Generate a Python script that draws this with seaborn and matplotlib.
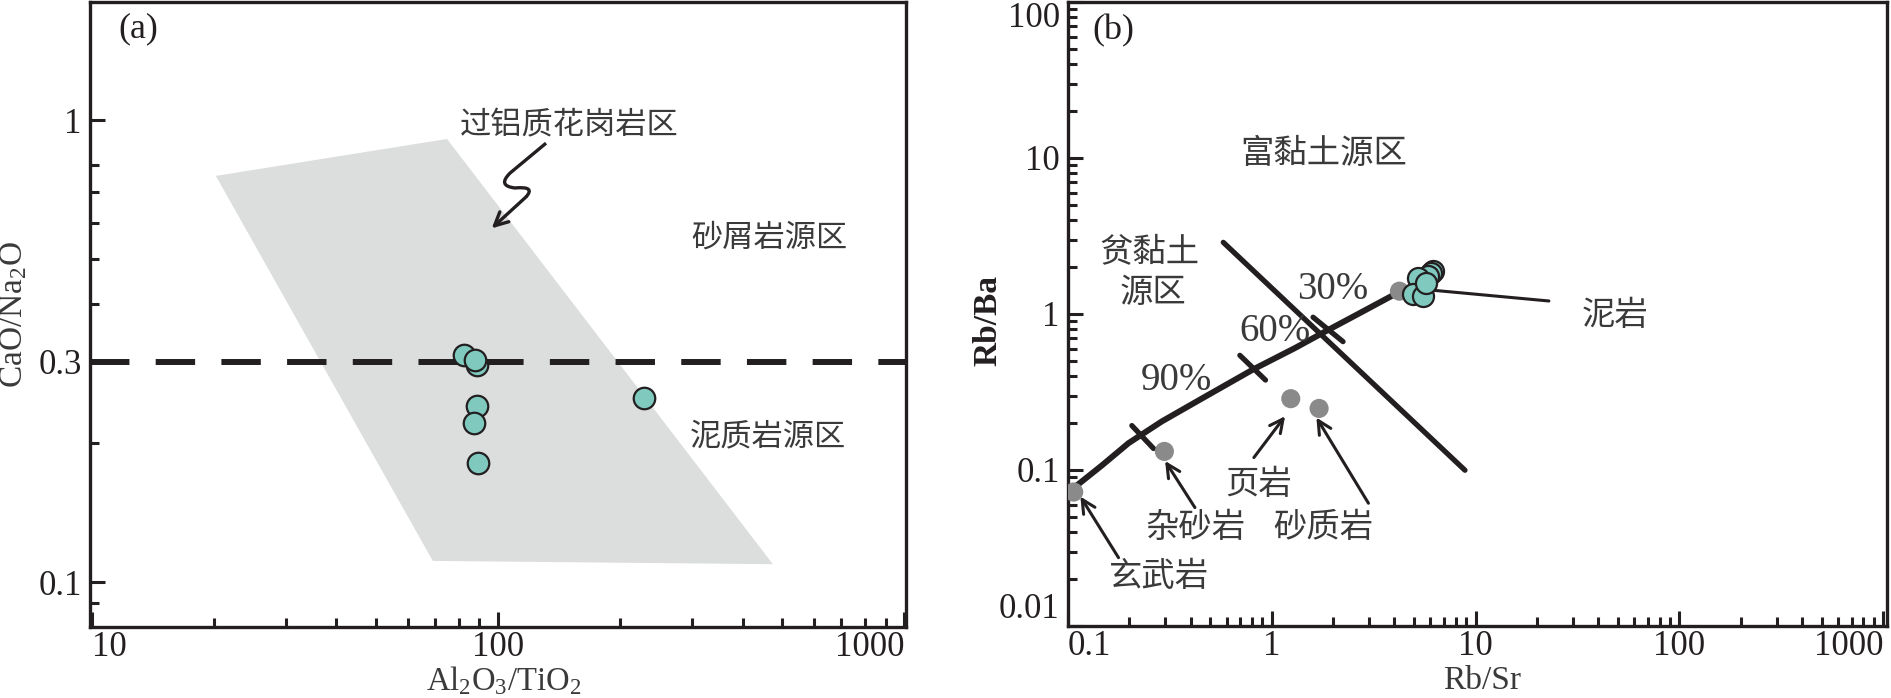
import matplotlib
matplotlib.use("Agg")
import matplotlib.pyplot as plt
from matplotlib.path import Path
from matplotlib.patches import PathPatch, Polygon
from matplotlib.ticker import FixedLocator, NullFormatter
import seaborn as sns

# ---------------- data ----------------
# panel (a): Al2O3/TiO2 vs CaO/Na2O
a_x = [89.0, 82.6, 87.8, 89.0, 87.3, 89.5, 228.5]
a_y = [0.295, 0.3105, 0.303, 0.2405, 0.2212, 0.1812, 0.2498]
granite_x = [20.2, 74.9, 475.0, 69.1]          # peraluminous granite field
granite_y = [0.757, 0.910, 0.1094, 0.1112]
boundary_a = 0.3
squiggle_x = [131.3, 107.1, 99.4, 110.1, 124.1, 117.2]
squiggle_y = [0.891, 0.768, 0.720, 0.7128, 0.720, 0.6816]
squiggle_tip = (96.5, 0.583)

# panel (b): Rb/Sr vs Rb/Ba
b_x = [6.17, 6.05, 5.83, 5.21, 4.92, 5.51, 5.72]
b_y = [1.894, 1.824, 1.755, 1.697, 1.334, 1.302, 1.579]
end_x = [0.1066, 0.297, 1.239, 1.706, 4.23]     # basalt, greywacke, shale, psammite, pelite
end_y = [0.0722, 0.1315, 0.2864, 0.248, 1.40]
mix_x = [0.1066, 0.1086, 0.1467, 0.198, 0.2885, 0.4529, 0.811, 1.296, 1.817, 2.748, 4.0, 4.23]
mix_y = [0.0722, 0.0782, 0.107, 0.1485, 0.2047, 0.2866, 0.4415, 0.6037, 0.768, 1.025, 1.334, 1.40]
clay_x = [0.578, 8.87]
clay_y = [2.877, 0.0996]
pct_labels = ['30%', '60%', '90%']
pct_lx = [2.0, 1.034, 0.3417]
pct_ly = [1.434, 0.775, 0.3736]
pct_seg_x = [[1.594, 2.236], [0.697, 0.931], [0.2057, 0.2627]]
pct_seg_y = [[0.953, 0.6647], [0.543, 0.377], [0.1925, 0.1373]]

# labels with arrows: text, text pos, arrow tail, arrow tip
arrow_names = ['玄武岩', '杂砂岩', '页岩', '砂质岩']
arrow_text_xy = [(0.278, 0.0209), (0.42, 0.043), (0.858, 0.0802), (1.785, 0.043)]
arrow_tail = [(0.1769, 0.0274), (0.4194, 0.0574), (0.8166, 0.1201), (2.98, 0.0612)]
arrow_tip = [(0.115, 0.0675), (0.2995, 0.1142), (1.162, 0.2211), (1.655, 0.2169)]
pelite_line_x = [6.04, 22.9]
pelite_line_y = [1.423, 1.211]

# ---------------- style ----------------
sns.set_style('white')
plt.rcParams['font.family'] = ['Liberation Serif', 'Noto Sans CJK SC', 'DejaVu Sans']
plt.rcParams['mathtext.fontset'] = 'custom'
plt.rcParams['mathtext.rm'] = 'Liberation Serif'
plt.rcParams['mathtext.default'] = 'regular'

ink = '#231f20'
teal = '#7fc9be'
grey_pt = '#8a8a8a'
field = '#dcdddd'
cn_color = '#3a3a3a'
cn = dict(family=['Noto Sans CJK SC', 'DejaVu Sans'], weight='light', color=cn_color)
num_fs = 25

fig = plt.figure(figsize=(18.91, 6.98), dpi=100)
ax1 = fig.add_axes([0.0476, 0.1017, 0.4315, 0.8954])
ax2 = fig.add_axes([0.5648, 0.1032, 0.4331, 0.8940])


def style_axes(ax):
    for side in ['left', 'bottom', 'top', 'right']:
        ax.spines[side].set_linewidth(2.4)
        ax.spines[side].set_color(ink)
    ax.tick_params(which='both', direction='in', bottom=True, left=True,
                   top=False, right=False, colors=ink, labelsize=num_fs, width=2.2)
    ax.tick_params(which='major', length=11, pad=6)
    ax.tick_params(which='minor', length=6.5)
    ax.tick_params(axis='x', which='major', pad=3)


# ---------------- panel (a) ----------------
ax1.set_xscale('log')
ax1.set_yscale('log')
ax1.set_xlim(9.9, 1010)
ax1.set_ylim(0.08, 1.8)

ax1.add_patch(Polygon(list(zip(granite_x, granite_y)), closed=True,
                      facecolor=field, edgecolor='none', zorder=1))
ax1.axhline(boundary_a, color=ink, linewidth=4.3, dashes=(6.6, 4.4), zorder=2)

sns.scatterplot(x=a_x, y=a_y, ax=ax1, s=240, color=teal, edgecolor=ink,
                linewidth=1.6, zorder=5, legend=False)

# wavy arrow pointing into the granite field
codes = [Path.MOVETO, Path.LINETO, Path.CURVE3, Path.CURVE3, Path.CURVE3, Path.CURVE3]
sq = PathPatch(Path(list(zip(squiggle_x, squiggle_y)), codes), facecolor='none',
               edgecolor=ink, linewidth=2.4, zorder=4)
ax1.add_patch(sq)
ax1.annotate('', xy=squiggle_tip, xytext=(squiggle_x[-1], squiggle_y[-1]),
             arrowprops=dict(arrowstyle='->', color=ink, lw=2.4, mutation_scale=24,
                             shrinkA=0, shrinkB=0), zorder=4)

ax1.text(150, 0.972, '过铝质花岗岩区', ha='center', va='center', fontsize=22.5, **cn)
ax1.text(465, 0.5556, '砂屑岩源区', ha='center', va='center', fontsize=22.5, **cn)
ax1.text(463, 0.2065, '泥质岩源区', ha='center', va='center', fontsize=22.5, **cn)
ax1.text(0.059, 0.957, '(a)', transform=ax1.transAxes, ha='center', va='center',
         fontsize=26, color=ink)

ax1.xaxis.set_major_locator(FixedLocator([10, 100, 1000]))
ax1.set_xticklabels(['10', '100', '1000'])
ax1.xaxis.set_minor_locator(FixedLocator([20, 30, 40, 50, 60, 70, 80, 90,
                                          200, 300, 400, 500, 600, 700, 800, 900]))
ax1.xaxis.set_minor_formatter(NullFormatter())
ax1.yaxis.set_major_locator(FixedLocator([0.1, 0.3, 1]))
ax1.set_yticklabels(['0.1', '0.3', '1'])
ax1.yaxis.set_minor_locator(FixedLocator([0.09, 0.2, 0.4, 0.5, 0.6, 0.7, 0.8]))
ax1.yaxis.set_minor_formatter(NullFormatter())
style_axes(ax1)
ax1.get_xticklabels()[0].set_ha('left')
ax1.get_xticklabels()[-1].set_ha('right')

ax1.set_xlabel('Al$_2$O$_3$/TiO$_2$', fontsize=23.5, color=cn_color, va='bottom')
ax1.xaxis.set_label_coords(0.507, -0.112)
ax1.set_ylabel('CaO/Na$_2$O', fontsize=24, color=cn_color, va='center')
ax1.yaxis.set_label_coords(-0.094, 0.5)

# ---------------- panel (b) ----------------
ax2.set_xscale('log')
ax2.set_yscale('log')
ax2.set_xlim(0.1, 1045)
ax2.set_ylim(0.01, 100)

sns.lineplot(x=clay_x, y=clay_y, ax=ax2, color=ink, linewidth=3.8, sort=False,
             estimator=None, zorder=2)
sns.lineplot(x=mix_x, y=mix_y, ax=ax2, color=ink, linewidth=4.3, sort=False,
             estimator=None, zorder=2)
for sx, sy in zip(pct_seg_x, pct_seg_y):
    sns.lineplot(x=sx, y=sy, ax=ax2, color=ink, linewidth=3.8, sort=False,
                 estimator=None, zorder=2)
for lab, lx, ly in zip(pct_labels, pct_lx, pct_ly):
    ax2.text(lx, ly, lab, ha='center', va='center', fontsize=28, color=cn_color)

sns.lineplot(x=pelite_line_x, y=pelite_line_y, ax=ax2, color=ink, linewidth=2.2,
             sort=False, estimator=None, zorder=3)
sns.scatterplot(x=end_x, y=end_y, ax=ax2, s=190, color=grey_pt, edgecolor='none',
                zorder=4, legend=False)
sns.scatterplot(x=b_x, y=b_y, ax=ax2, s=230, color=teal, edgecolor=ink,
                linewidth=1.6, zorder=5, legend=False)

for name, (tx, ty), tail, tip in zip(arrow_names, arrow_text_xy, arrow_tail, arrow_tip):
    ax2.text(tx, ty, name, ha='center', va='center', fontsize=24, **cn)
    ax2.annotate('', xy=tip, xytext=tail,
                 arrowprops=dict(arrowstyle='->', color=ink, lw=2.2, mutation_scale=24,
                                 shrinkA=0, shrinkB=0), zorder=3)

ax2.text(48.1, 0.9716, '泥岩', ha='center', va='center', fontsize=24, **cn)
ax2.text(1.79, 10.64, '富黏土源区', ha='center', va='center', fontsize=24, **cn)
ax2.text(0.252, 2.455, '贫黏土', ha='center', va='center', fontsize=24, **cn)
ax2.text(0.2606, 1.378, '源区', ha='center', va='center', fontsize=24, **cn)
ax2.text(0.055, 0.954, '(b)', transform=ax2.transAxes, ha='center', va='center',
         fontsize=26, color=ink)

ax2.xaxis.set_major_locator(FixedLocator([0.1, 1, 10, 100, 1000]))
ax2.set_xticklabels(['0.1', '1', '10', '100', '1000'])
ax2.xaxis.set_minor_locator(FixedLocator([m * d for d in [0.1, 1, 10, 100]
                                          for m in range(2, 10)]))
ax2.xaxis.set_minor_formatter(NullFormatter())
ax2.yaxis.set_major_locator(FixedLocator([0.01, 0.1, 1, 10, 100]))
ax2.set_yticklabels(['0.01', '0.1', '1', '10', '100'])
ax2.yaxis.set_minor_locator(FixedLocator([m * d for d in [0.01, 0.1, 1, 10]
                                          for m in range(2, 10)]))
ax2.yaxis.set_minor_formatter(NullFormatter())
style_axes(ax2)
ax2.get_xticklabels()[0].set_ha('left')
ax2.get_xticklabels()[-1].set_ha('right')
ax2.get_yticklabels()[0].set_va('bottom')
ax2.get_yticklabels()[-1].set_va('top')

ax2.set_xlabel('Rb/Sr', fontsize=24, color=cn_color, va='bottom')
ax2.xaxis.set_label_coords(0.5055, -0.112)
ax2.set_ylabel('Rb/Ba', fontsize=24, color=ink, fontweight='bold', va='center')
ax2.yaxis.set_label_coords(-0.0977, 0.49)

fig.savefig('out.png', dpi=100)
